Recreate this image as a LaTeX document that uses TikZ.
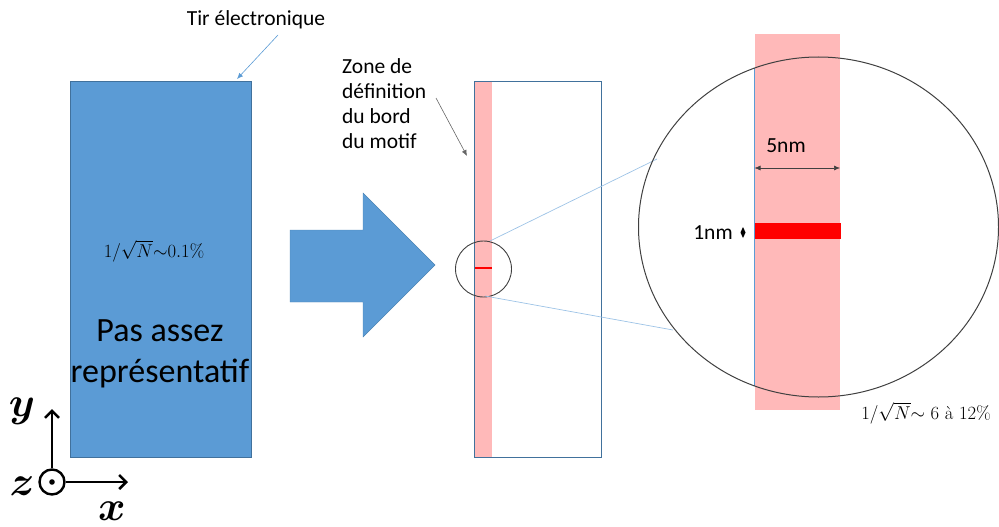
\documentclass[tikz,border=0pt]{standalone}
\usepackage{fontspec}
\setsansfont{Carlito}
\usetikzlibrary{arrows.meta}
\definecolor{oblue}{HTML}{5B9BD5}
\definecolor{oedge}{HTML}{41719C}
\definecolor{pinkz}{HTML}{FFB9B9}
\definecolor{lblue}{HTML}{9DC3E6}
\begin{document}
\begin{tikzpicture}[x=1pt,y=-1pt,
  lbl/.style={font=\sffamily\fontsize{21.5}{25}\selectfont, inner sep=0pt},
  mth/.style={font=\LARGE, scale=1.08, inner sep=0pt},
  axlbl/.style={font=\boldmath\Large, scale=2.9, inner sep=0pt},
  axarrow/.style={line width=2.8pt, -{Straight Barb[length=7pt,width=14pt,line width=2.5pt]}},
  zoomline/.style={lblue, line width=0.7pt}]
\useasboundingbox (0,0) rectangle (999,527);
% source block
\path[draw=oedge, fill=oblue, line width=0.6pt] (70,81) rectangle (251,457);
\coordinate (srctop) at (237,79);
\node[mth] (sig1) at (154,251) {$1/\sqrt{N}{\sim}0.1\%$};
\node[font=\sffamily\fontsize{34}{41}\selectfont, align=center, inner sep=0pt] (pas) at (160,354) {Pas assez\\représentatif};
% electron shot
\node[lbl] (tir) at (256,20) {Tir électronique};
\coordinate (tirA) at (278,35);
\draw[oblue, line width=0.6pt, -{Latex[length=6pt,width=5pt]}] (tirA) -- (srctop);
% block arrow
\path[fill=oblue, draw=oblue!85!black, line width=0.4pt] (290,230) -- (363,230) -- (363,193) -- (435,265) -- (363,337) -- (363,302) -- (290,302) -- cycle;
% domain rectangle
\fill[pinkz] (475,81) rectangle (492,457);
\draw[oedge, line width=0.7pt] (474.5,81) rectangle (601.5,457);
\node[lbl, align=left, anchor=north west] (zone) at (342,58) {Zone de\\définition\\du bord\\du motif};
\coordinate (zoneA) at (436,98);
\coordinate (zoneB) at (467,156);
\draw[black!60, line width=0.6pt, -{Latex[length=6pt,width=5pt]}] (zoneA) -- (zoneB);
% small circle + red mark
\node[draw=black!75, circle, minimum size=56pt, line width=0.9pt, inner sep=0pt] (zs) at (483.5,269) {};
\draw[red, line width=1.6pt] (475,268) -- (492,268);
% zoom lines
\coordinate (zl1) at (490,241);
\coordinate (zl2) at (485,296);
\coordinate (zb1) at (657,159);
\coordinate (zb2) at (673,330);
\draw[zoomline] (zl1) -- (zb1);
\draw[zoomline] (zl2) -- (zb2);
% big zoom
\fill[pinkz] (754.5,34) rectangle (840,410);
\draw[oblue, line width=0.7pt] (754.5,68) -- (754.5,386);
\fill[red] (754.5,223) rectangle (841,239);
\draw[black!75, line width=1pt] (818.5,227) ellipse [x radius=180pt, y radius=170pt];
\node[lbl] (five) at (786,146) {5nm};
\coordinate (d1) at (754.5,168);
\coordinate (d2) at (840,168);
\draw[black!75, line width=0.6pt, {Latex[length=6pt,width=5pt]}-{Latex[length=6pt,width=5pt]}] (d1) -- (d2);
\node[lbl] (one) at (713,233) {1nm};
\fill[black] (743,227) -- (745.5,232.5) -- (743,238) -- (740.5,232.5) -- cycle;
\node[mth] (sig2) at (926,413) {$1/\sqrt{N}{\sim}$ 6 à 12\%};
% axes
\node[draw=black, circle, line width=2.4pt, minimum size=25pt, inner sep=0pt] (zax) at (52,482) {};
\fill (zax.center) circle [radius=2.8pt];
\coordinate (ytip) at (52,409);
\coordinate (xtip) at (128,482);
\draw[axarrow] (zax.north) -- (ytip);
\draw[axarrow] (zax.east) -- (xtip);
\node[axlbl] (ylab) at (22,411) {$y$};
\node[axlbl] (zlab) at (22,486) {$z$};
\node[axlbl] (xlab) at (112,511) {$x$};
\end{tikzpicture}
\end{document}
